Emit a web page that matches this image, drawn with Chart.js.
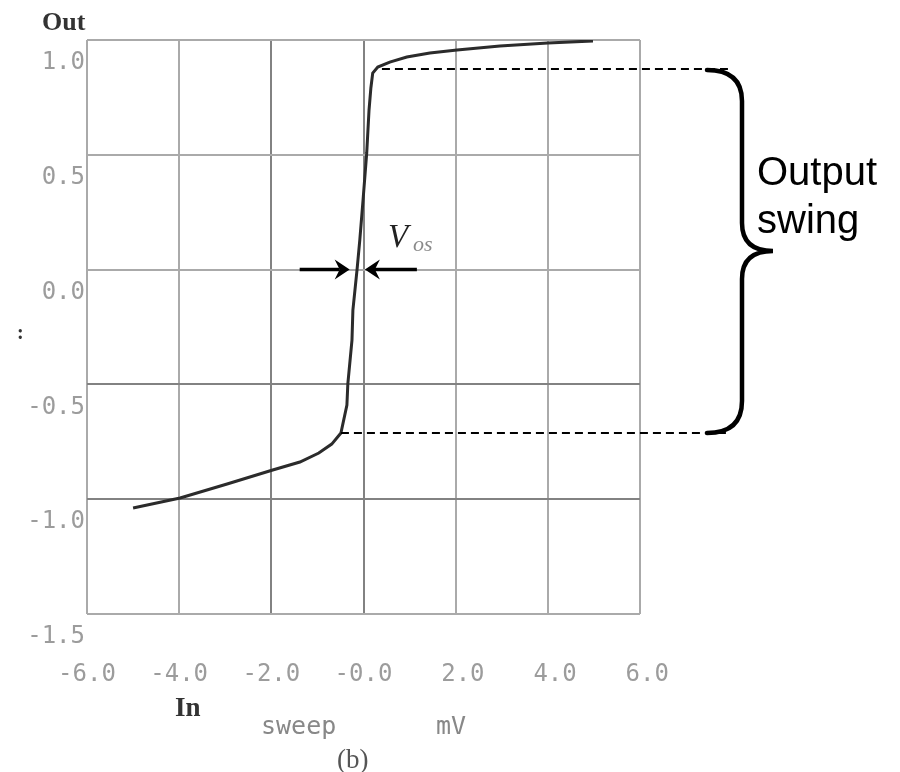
<!DOCTYPE html>
<html>
<head>
<meta charset="utf-8">
<title>Output swing</title>
<script src="https://cdn.jsdelivr.net/npm/chart.js@4/dist/chart.umd.min.js"></script>
<style>
    html, body { margin: 0; padding: 0; background: #ffffff; }
    #wrap { position: relative; width: 900px; height: 772px; }
</style>
</head>
<body>
<div id="wrap"><canvas id="swingChart"></canvas></div>
<script>
// Transfer curve (In sweep in mV, Out in V)
const inputMv = [-5.0, -3.98, -2.96, -1.97, -1.38, -0.97, -0.69, -0.49, -0.36, -0.34, -0.25, -0.23, -0.14, -0.08, -0.01, 0.07, 0.12, 0.16, 0.20, 0.31, 0.57, 0.94, 1.44, 2.03, 2.96, 4.0, 4.98];
const outputV = [-1.038, -0.995, -0.934, -0.873, -0.838, -0.799, -0.760, -0.712, -0.590, -0.498, -0.307, -0.176, 0.0, 0.129, 0.303, 0.508, 0.695, 0.791, 0.856, 0.882, 0.904, 0.926, 0.943, 0.956, 0.974, 0.987, 0.996];

// Tick labels as printed
const xTickLabels = ['-6.0', '-4.0', '-2.0', '-0.0', ' 2.0', ' 4.0', ' 6.0'];
const yTickLabels = ['-1.5', '-1.0', '-0.5', '0.0', '0.5', '1.0'];

// Annotation levels
const swingHigh = 0.874;
const swingLow = -0.712;
const swingHighStart = 0.40;
const swingLowStart = -0.49;
const dashEnd = 8.0;
const vosLeft = -0.30;
const vosRight = 0.03;

// Darker grid lines in the scan
const darkX = [-2, 0];
const darkY = [-0.5, -1.0];

const lightGrid = '#aaaaaa';
const darkGrid = '#828282';

const points = inputMv.map((x, i) => ({ x: x, y: outputV[i] }));

// arrowhead with a notch, pointing at (tipX, y)
function arrowHead(ctx, tipX, y, dir) {
    ctx.beginPath();
    ctx.moveTo(tipX, y);
    ctx.lineTo(tipX - dir * 15, y - 10);
    ctx.lineTo(tipX - dir * 10, y);
    ctx.lineTo(tipX - dir * 15, y + 10);
    ctx.closePath();
    ctx.fill();
}

// Draw the extra labels, arrows and the brace
const annotations = {
    id: 'annotations',
    afterDraw(chart) {
        const ctx = chart.ctx;
        const xs = chart.scales.x;
        const ys = chart.scales.y;
        ctx.save();

        // dashed swing levels
        const yHi = ys.getPixelForValue(swingHigh);
        const yLo = ys.getPixelForValue(swingLow);
        ctx.strokeStyle = '#000';
        ctx.lineWidth = 2;
        ctx.setLineDash([8, 5]);
        ctx.beginPath();
        ctx.moveTo(xs.getPixelForValue(swingHighStart), yHi);
        ctx.lineTo(xs.getPixelForValue(dashEnd), yHi);
        ctx.moveTo(xs.getPixelForValue(swingLowStart), yLo);
        ctx.lineTo(xs.getPixelForValue(dashEnd) - 4, yLo);
        ctx.stroke();
        ctx.setLineDash([]);

        // brace
        const bx = 742, ex = 707, tx = 773;
        const mid = (yHi + yLo) / 2;
        ctx.lineWidth = 4.5;
        ctx.lineCap = 'round';
        ctx.beginPath();
        ctx.moveTo(ex, yHi + 1);
        ctx.quadraticCurveTo(bx, yHi + 1, bx, yHi + 32);
        ctx.lineTo(bx, mid - 28);
        ctx.quadraticCurveTo(bx, mid, tx, mid);
        ctx.quadraticCurveTo(bx, mid, bx, mid + 28);
        ctx.lineTo(bx, yLo - 32);
        ctx.quadraticCurveTo(bx, yLo, ex, yLo);
        ctx.stroke();

        // Vos arrows
        const y0 = ys.getPixelForValue(0);
        const xl = xs.getPixelForValue(vosLeft);
        const xr = xs.getPixelForValue(vosRight);
        ctx.lineWidth = 3.5;
        ctx.lineCap = 'butt';
        ctx.beginPath();
        ctx.moveTo(xl - 50, y0);
        ctx.lineTo(xl - 10, y0);
        ctx.moveTo(xr + 52, y0);
        ctx.lineTo(xr + 10, y0);
        ctx.stroke();
        ctx.fillStyle = '#000';
        arrowHead(ctx, xl, y0, 1);
        arrowHead(ctx, xr, y0, -1);

        // V_os label
        ctx.textBaseline = 'alphabetic';
        ctx.textAlign = 'left';
        ctx.fillStyle = '#222';
        ctx.font = 'italic 33px "Liberation Serif"';
        ctx.fillText('V', 388, 247);
        ctx.fillStyle = '#8a8a8a';
        ctx.font = 'italic 22px "Liberation Serif"';
        ctx.fillText('os', 413, 251);

        // Output swing
        ctx.fillStyle = '#000';
        ctx.font = '40px "Liberation Sans"';
        ctx.fillText('Output', 757, 185);
        ctx.fillText('swing', 757, 233);

        // scan labels
        ctx.fillStyle = '#333';
        ctx.font = 'bold 26px "Liberation Serif"';
        ctx.fillText('Out', 42, 30);
        ctx.font = 'bold 27px "Liberation Serif"';
        ctx.fillText('In', 175, 716);
        ctx.font = 'bold 20px "Liberation Serif"';
        ctx.fillText(':', 17, 339);
        ctx.fillStyle = '#888';
        ctx.font = '25px "DejaVu Sans Mono"';
        ctx.fillText('sweep', 261, 734);
        ctx.fillText('mV', 436, 734);
        ctx.fillStyle = '#555';
        ctx.font = '27px "Liberation Serif"';
        ctx.fillText('(b)', 337, 768);

        ctx.restore();
    }
};

function gridColor(ctx, darkList) {
    const v = ctx.tick ? ctx.tick.value : null;
    return darkList.some(d => Math.abs(d - v) < 1e-6) ? darkGrid : lightGrid;
}

const swingChart = new Chart(document.getElementById('swingChart'), {
    type: 'scatter',
    data: {
        datasets: [{
            data: points,
            showLine: true,
            borderColor: '#2b2b2b',
            borderWidth: 3,
            pointRadius: 0,
            tension: 0
        }]
    },
    options: {
        responsive: true,
        maintainAspectRatio: false,
        animation: false,
        layout: { padding: { top: 40, right: 260, left: 0, bottom: 0 } },
        plugins: {
            legend: { display: false },
            tooltip: { enabled: false }
        },
        scales: {
            x: {
                type: 'linear',
                min: -6,
                max: 6,
                border: { display: false },
                grid: {
                    drawTicks: false,
                    lineWidth: 2,
                    color: ctx => gridColor(ctx, darkX)
                },
                ticks: {
                    stepSize: 2,
                    padding: 46,
                    maxRotation: 0,
                    color: '#9c9c9c',
                    font: { family: '"DejaVu Sans Mono"', size: 24 },
                    callback: (v, i) => xTickLabels[i]
                },
                afterFit: s => { s.height = 158; }
            },
            y: {
                type: 'linear',
                min: -1.5,
                max: 1.0,
                border: { display: false },
                grid: {
                    drawTicks: false,
                    lineWidth: 2,
                    color: ctx => gridColor(ctx, darkY)
                },
                ticks: {
                    stepSize: 0.5,
                    padding: 2,
                    labelOffset: 23,
                    color: '#9c9c9c',
                    font: { family: '"DejaVu Sans Mono"', size: 24 },
                    callback: (v, i) => yTickLabels[i]
                },
                afterFit: s => { s.width = 87; }
            }
        }
    },
    plugins: [annotations]
});
</script>
</body>
</html>
